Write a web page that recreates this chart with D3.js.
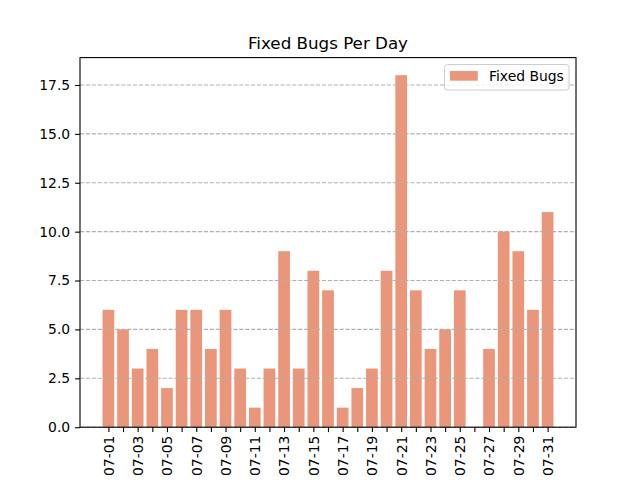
<!DOCTYPE html>
<html>
<head>
<meta charset="utf-8">
<script src="https://cdn.jsdelivr.net/npm/d3@7"></script>
<style>
  body { margin: 0; background: #fff; }
  text { font-family: "DejaVu Sans", sans-serif; }
</style>
</head>
<body>
<svg id="chart" width="640" height="480"></svg>
<script>
// data
var days = ['07-01', '07-02', '07-03', '07-04', '07-05', '07-06', '07-07', '07-08',
    '07-09', '07-10', '07-11', '07-12', '07-13', '07-14', '07-15', '07-16',
    '07-17', '07-18', '07-19', '07-20', '07-21', '07-22', '07-23', '07-24',
    '07-25', '07-26', '07-27', '07-28', '07-29', '07-30', '07-31'];
var fixedBugs = [6, 5, 3, 4, 2, 6, 6, 4, 6, 3, 1, 3, 9, 3, 8, 7,
    1, 2, 3, 8, 18, 7, 4, 5, 7, 0, 4, 10, 9, 6, 11];
var yTicks = [0, 2.5, 5, 7.5, 10, 12.5, 15, 17.5];
var seriesName = 'Fixed Bugs';

( function () {
    // plot area (matplotlib default subplot box at 640x480)
    var plotL = 80, plotR = 576, plotT = 57.6, plotB = 427.2;
    var barColor = '#E9967A';

    var svg = d3.select( '#chart' );

    // categorical axis like matplotlib: index positions, bar width 0.8, 5% margins
    var n = days.length;
    var span = ( n - 1 ) + 0.8;
    var x = d3.scaleLinear()
        .domain( [-0.4 - span * 0.05, n - 1 + 0.4 + span * 0.05] )
        .range( [plotL, plotR] );

    var yMax = d3.max( fixedBugs ) * 1.05;
    var y = d3.scaleLinear()
        .domain( [0, yMax] )
        .range( [plotB, plotT] );

    // bars
    svg.append( 'g' )
        .selectAll( 'rect' )
        .data( fixedBugs )
        .join( 'rect' )
            .attr( 'x', ( d, i ) => x( i - 0.4 ) )
            .attr( 'width', x( 0.8 ) - x( 0 ) )
            .attr( 'y', d => y( d ) )
            .attr( 'height', d => y( 0 ) - y( d ) )
            .attr( 'fill', barColor );

    // grid (drawn over the bars, as in the reference)
    svg.append( 'g' )
        .selectAll( 'line' )
        .data( yTicks )
        .join( 'line' )
            .attr( 'x1', plotL )
            .attr( 'x2', plotR )
            .attr( 'y1', d => y( d ) )
            .attr( 'y2', d => y( d ) )
            .attr( 'stroke', '#b0b0b0' )
            .attr( 'stroke-width', 1.1 )
            .attr( 'stroke-dasharray', '4.1,1.8' );

    // x axis
    var xAxis = svg.append( 'g' )
        .attr( 'transform', 'translate(0,' + plotB + ')' )
        .call( d3.axisBottom( x )
            .tickValues( d3.range( n ) )
            .tickSize( 4.9 )
            .tickFormat( i => i % 2 === 0 ? days[i] : '' ) );
    xAxis.select( '.domain' ).remove();
    xAxis.selectAll( 'line' ).attr( 'stroke', '#000' ).attr( 'stroke-width', 1.1 );
    xAxis.selectAll( 'text' )
        .attr( 'font-size', 13.9 )
        .attr( 'fill', '#000' )
        .attr( 'text-anchor', 'end' )
        .attr( 'dy', '0.35em' )
        .attr( 'transform', 'rotate(-90)' )
        .attr( 'x', -8.4 )
        .attr( 'y', 0 );

    // y axis
    var yAxis = svg.append( 'g' )
        .attr( 'transform', 'translate(' + plotL + ',0)' )
        .call( d3.axisLeft( y )
            .tickValues( yTicks )
            .tickSize( 4.9 )
            .tickPadding( 4.9 )
            .tickFormat( d3.format( '.1f' ) ) );
    yAxis.select( '.domain' ).remove();
    yAxis.selectAll( 'line' ).attr( 'stroke', '#000' ).attr( 'stroke-width', 1.1 );
    yAxis.selectAll( 'text' ).attr( 'font-size', 13.9 ).attr( 'fill', '#000' );

    // frame
    svg.append( 'rect' )
        .attr( 'x', plotL )
        .attr( 'y', plotT )
        .attr( 'width', plotR - plotL )
        .attr( 'height', plotB - plotT )
        .attr( 'fill', 'none' )
        .attr( 'stroke', '#000' )
        .attr( 'stroke-width', 1.1 );

    // title
    svg.append( 'text' )
        .attr( 'x', ( plotL + plotR ) / 2 )
        .attr( 'y', plotT - 8.5 )
        .attr( 'text-anchor', 'middle' )
        .attr( 'font-size', 16.7 )
        .text( 'Fixed Bugs Per Day' );

    // legend
    var legend = svg.append( 'g' ).attr( 'transform', 'translate(444.5,64.5)' );
    legend.append( 'rect' )
        .attr( 'width', 124.5 )
        .attr( 'height', 25.5 )
        .attr( 'rx', 3 )
        .attr( 'fill', '#fff' )
        .attr( 'fill-opacity', 0.8 )
        .attr( 'stroke', '#cccccc' )
        .attr( 'stroke-width', 1 );
    legend.append( 'rect' )
        .attr( 'x', 5.5 )
        .attr( 'y', 6.5 )
        .attr( 'width', 27.8 )
        .attr( 'height', 9.7 )
        .attr( 'fill', barColor );
    legend.append( 'text' )
        .attr( 'x', 44.5 )
        .attr( 'y', 16.3 )
        .attr( 'font-size', 13.9 )
        .text( seriesName );
} )();
</script>
</body>
</html>
